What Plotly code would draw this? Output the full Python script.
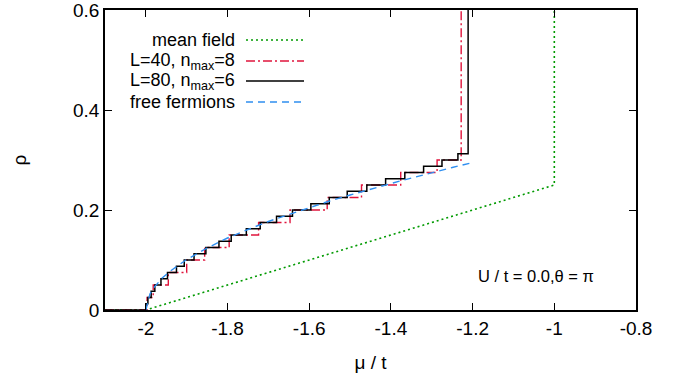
import plotly.graph_objects as go

# ---------------- data ----------------
# mean field
mf_mu = [-2.1, -2.0, -1.0, -1.0]
mf_rho = [0.0, 0.0, 0.25, 0.6]

# L=40, nmax=8 : staircase (start of each density level), density steps of 1/40
l40_mu = [-2.1, -1.997, -1.982, -1.945, -1.900, -1.856, -1.796, -1.724, -1.647,
          -1.556, -1.472, -1.376, -1.287, -1.228]
l40_rho = [0.0, 0.025, 0.05, 0.075, 0.1, 0.125, 0.15, 0.175, 0.2,
           0.225, 0.25, 0.275, 0.3, 0.6]

# L=80, nmax=6 : staircase, density steps of 1/80
l80_mu = [-2.1, -1.999, -1.995, -1.987, -1.978, -1.963, -1.947, -1.925, -1.906,
          -1.882, -1.853, -1.821, -1.791, -1.754, -1.720, -1.680, -1.641,
          -1.596, -1.551, -1.507, -1.459, -1.413, -1.366, -1.320, -1.275,
          -1.236, -1.211]
l80_rho = [0.0, 0.0125, 0.025, 0.0375, 0.05, 0.0625, 0.075, 0.0875, 0.1,
           0.1125, 0.125, 0.1375, 0.15, 0.1625, 0.175, 0.1875, 0.2,
           0.2125, 0.225, 0.2375, 0.25, 0.2625, 0.275, 0.2875, 0.3,
           0.3125, 0.6]

# free fermions
ff_mu = [-2.0, -1.99, -1.98, -1.96, -1.94, -1.92, -1.90, -1.85, -1.80, -1.75,
         -1.70, -1.65, -1.60, -1.55, -1.50, -1.45, -1.40, -1.35, -1.30,
         -1.25, -1.20]
ff_rho = [0.0, 0.032, 0.045, 0.064, 0.078, 0.090, 0.101, 0.124, 0.144, 0.161,
          0.177, 0.191, 0.205, 0.218, 0.230, 0.242, 0.253, 0.264, 0.275,
          0.285, 0.295]

x_tickvals = [-2.0, -1.8, -1.6, -1.4, -1.2, -1.0, -0.8]
x_ticktext = ["-2", "-1.8", "-1.6", "-1.4", "-1.2", "-1", "-0.8"]
y_tickvals = [0.0, 0.2, 0.4, 0.6]
y_ticktext = ["0", "0.2", "0.4", "0.6"]

legend_names = ["mean field", "L=40, n<sub>max</sub>=8", "L=80, n<sub>max</sub>=6", "free fermions"]

# ---------------- styles ----------------
GREEN = "#009a00"
RED = "#e0143c"
BLACK = "#000000"
BLUE = "#2f8ff0"
styles = [
    dict(color=GREEN, width=1.6, dash="2px,3px"),
    dict(color=RED, width=1.4, dash="9px,3px,2px,3px"),
    dict(color=BLACK, width=1.5, dash="solid"),
    dict(color=BLUE, width=1.4, dash="7px,5px"),
]

FONT = "Liberation Sans, Arial, sans-serif"

fig = go.Figure()
fig.add_trace(go.Scatter(x=mf_mu, y=mf_rho, mode="lines", line=styles[0], showlegend=False))
fig.add_trace(go.Scatter(x=l40_mu, y=l40_rho, mode="lines", line=dict(**styles[1], shape="hv"), showlegend=False))
fig.add_trace(go.Scatter(x=l80_mu, y=l80_rho, mode="lines", line=dict(**styles[2], shape="hv"), showlegend=False))
fig.add_trace(go.Scatter(x=ff_mu, y=ff_rho, mode="lines", line=styles[3], showlegend=False))

# custom legend (text right-aligned, sample on the right, as in the reference)
L, R, T, B = 105, 48, 10, 73
W, H = 684 - L - R, 383 - T - B
rows_px = [40, 61, 81, 102]
text_right_px = 237
sample_px = (246, 304)
for name, st, ypx in zip(legend_names, styles, rows_px):
    yp = (310 - ypx) / H
    fig.add_annotation(x=(text_right_px - L) / W, y=yp, xref="paper", yref="paper",
                       text=name, showarrow=False, xanchor="right", yanchor="middle",
                       font=dict(family=FONT, size=18, color="black"))
    fig.add_shape(type="line", xref="paper", yref="paper",
                  x0=(sample_px[0] - L) / W, x1=(sample_px[1] - L) / W, y0=yp, y1=yp,
                  line=dict(color=st["color"], width=st["width"], dash=st["dash"]))

fig.add_annotation(x=(596 - L) / W, y=(310 - 276) / H, xref="paper", yref="paper",
                   text="U / t = 0.0,θ = π", showarrow=False, xanchor="right", yanchor="middle",
                   font=dict(family=FONT, size=16.5, color="black"))

axis_common = dict(showline=True, linecolor="black", linewidth=1.5, mirror="ticks",
                   ticks="inside", ticklen=7, tickwidth=1.3, tickcolor="black",
                   showgrid=False, zeroline=False, ticklabeloverflow="allow",
                   tickfont=dict(family=FONT, size=19, color="black"))

fig.update_xaxes(range=[-2.1, -0.8], tickmode="array", tickvals=x_tickvals, ticktext=x_ticktext,
                 title=dict(text="μ / t", font=dict(family=FONT, size=19, color="black"), standoff=18),
                 **axis_common)
fig.update_yaxes(range=[0, 0.6001], tickmode="array", tickvals=y_tickvals, ticktext=y_ticktext,
                 title=dict(text="ρ", font=dict(family=FONT, size=19, color="black"), standoff=41),
                 **axis_common)

fig.update_layout(width=684, height=383, margin=dict(l=L, r=R, t=T, b=B, autoexpand=False),
                  plot_bgcolor="white", paper_bgcolor="white", showlegend=False)

fig.write_html("out.html", config={"displayModeBar": False},
               post_script="document.body.style.margin='0';document.body.style.overflow='hidden';")
